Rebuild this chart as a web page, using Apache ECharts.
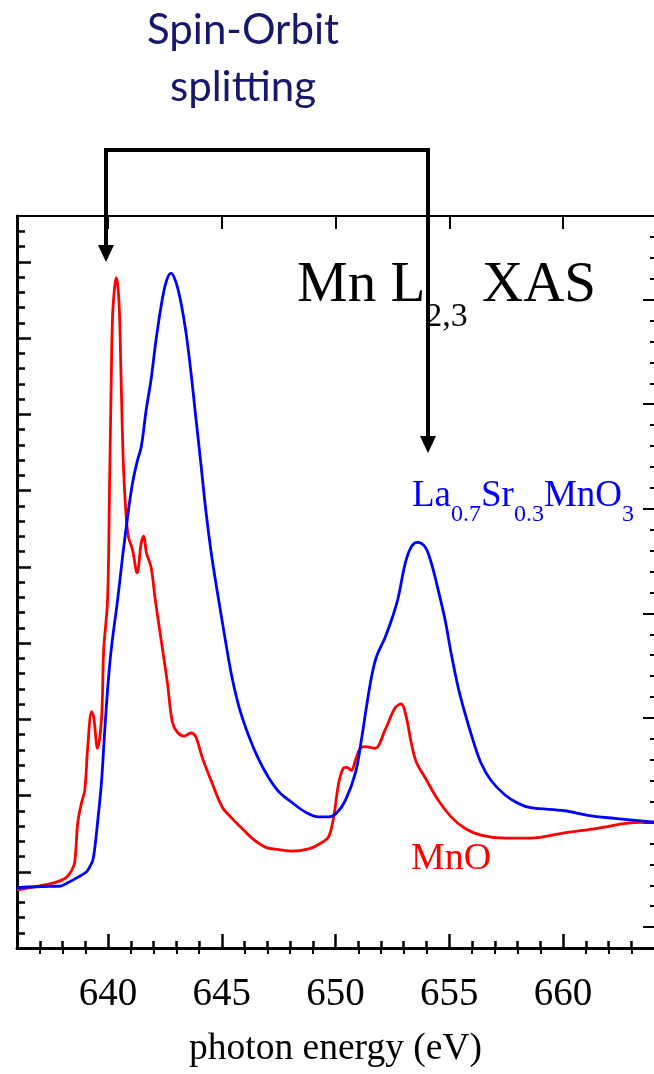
<!DOCTYPE html>
<html>
<head>
<meta charset="utf-8">
<script src="https://cdn.jsdelivr.net/npm/echarts@6/dist/echarts.min.js"></script>
<style>
  html, body { margin: 0; padding: 0; background: #ffffff; }
  #chart { width: 654px; height: 1074px; }
</style>
</head>
<body>
<div id="chart"></div>
<script>
// Mn L2,3 absorption spectra (arbitrary intensity units)
const mnoEnergy = [
  636.00, 637.44, 637.88, 638.19, 638.41, 638.54, 638.67, 638.84, 638.98, 639.11,
  639.28, 639.37, 639.54, 639.72, 639.81, 639.98, 640.07, 640.14, 640.20, 640.29,
  640.36, 640.44, 640.51, 640.58, 640.68, 640.80, 640.90, 641.08, 641.28, 641.46,
  641.57, 641.69, 641.89, 642.08, 642.40, 642.61, 642.83, 643.05, 643.35, 643.65,
  643.86, 644.14, 644.58, 645.02, 645.45, 645.89, 646.33, 646.94, 647.51, 648.08,
  648.82, 649.39, 649.70, 649.92, 650.14, 650.35, 650.49, 650.70, 650.88, 651.09,
  651.30, 651.74, 652.18, 652.62, 652.89, 653.11, 653.33, 653.55, 653.93, 654.51,
  655.08, 655.68, 656.39, 657.43, 658.58, 660.06, 661.51, 662.96, 664.00
];
const mnoIntensity = [
  0.76, 0.84, 0.88, 0.93, 1.02, 1.13, 1.64, 1.91, 2.07, 2.64,
  3.10, 3.03, 2.62, 3.03, 3.91, 4.56, 6.10, 7.41, 8.28, 8.66,
  8.79, 8.66, 8.28, 7.41, 6.31, 5.65, 5.39, 5.22, 4.92, 5.31,
  5.40, 5.18, 5.00, 4.56, 3.91, 3.48, 2.96, 2.83, 2.78, 2.82,
  2.77, 2.50, 2.16, 1.85, 1.70, 1.57, 1.44, 1.32, 1.29, 1.27,
  1.30, 1.38, 1.46, 1.72, 2.16, 2.36, 2.37, 2.33, 2.47, 2.62,
  2.64, 2.62, 2.86, 3.15, 3.20, 3.03, 2.69, 2.44, 2.24, 1.94,
  1.72, 1.57, 1.48, 1.44, 1.44, 1.51, 1.57, 1.64, 1.65
];
const lsmoEnergy = [
  636.00, 637.44, 637.88, 638.19, 638.63, 639.06, 639.19, 639.33, 639.41, 639.54,
  639.71, 639.85, 639.98, 640.14, 640.42, 640.64, 640.86, 641.08, 641.30, 641.46,
  641.68, 641.89, 642.11, 642.33, 642.55, 642.77, 642.99, 643.21, 643.43, 643.65,
  643.86, 644.08, 644.30, 644.52, 644.74, 645.23, 645.45, 645.76, 646.20, 646.63,
  647.07, 647.51, 648.08, 648.69, 649.26, 649.70, 650.05, 650.44, 650.88, 651.14,
  651.36, 651.58, 651.80, 652.19, 652.54, 652.76, 653.07, 653.33, 653.59, 653.94,
  654.21, 654.51, 654.82, 655.08, 655.39, 655.69, 656.04, 656.39, 656.83, 657.44,
  658.01, 658.58, 660.07, 661.08, 662.26, 664.00
];
const lsmoIntensity = [
  0.79, 0.81, 0.81, 0.85, 0.92, 1.00, 1.06, 1.15, 1.29, 1.64,
  2.16, 2.82, 3.38, 3.91, 4.56, 5.13, 5.65, 6.10, 6.40, 6.57,
  7.06, 7.45, 7.97, 8.41, 8.73, 8.85, 8.73, 8.46, 8.07, 7.54,
  6.96, 6.36, 5.74, 5.22, 4.79, 3.91, 3.55, 3.16, 2.77, 2.47,
  2.23, 2.05, 1.91, 1.78, 1.72, 1.72, 1.77, 1.94, 2.30, 2.73,
  3.16, 3.55, 3.82, 4.08, 4.37, 4.60, 5.05, 5.26, 5.32, 5.26,
  5.05, 4.70, 4.30, 3.87, 3.42, 3.08, 2.73, 2.43, 2.20, 2.01,
  1.90, 1.84, 1.80, 1.74, 1.70, 1.65
];

// Axis ticks
const energyMajorTicks = [640, 645, 650, 655, 660];
const energyTickLabels = ['640', '645', '650', '655', '660'];
const energyMinorTicks = [637, 638, 639, 641, 642, 643, 644, 646, 647, 648, 649,
                          651, 652, 653, 654, 656, 657, 658, 659, 661, 662, 663];
const leftMajorTicks = [1, 2, 3, 4, 5, 6, 7, 8, 9];
const rightMajorTicks = [0.2, 1.2, 2.2, 3.2, 4.2, 5.2, 6.2];

const ENERGY_MIN = 636, ENERGY_MAX = 664;
const LEFT_MAX = 9.6, RIGHT_MAX = 7;

// minor tick positions every 0.2 units, leaving out the major positions
function fifthSteps(max, isMajor) {
  const out = [];
  for (let i = 1; i * 0.2 < max - 1e-6; i++) {
    const v = Math.round(i * 2) / 10;
    if (!isMajor(v)) out.push(v);
  }
  return out;
}
const leftMinorTicks = fifthSteps(LEFT_MAX, v => Math.abs(v - Math.round(v)) < 1e-6);
const rightMinorTicks = fifthSteps(RIGHT_MAX, v => Math.abs((v - 0.2) - Math.round(v - 0.2)) < 1e-6);

const pair = (xs, ys) => xs.map((x, i) => [x, ys[i]]);

const SERIF = '"Liberation Serif", "DejaVu Serif", serif';
const NAVY = '#17176b';

function tickAxis(base, ticks, len, width, extra) {
  return Object.assign({
    type: 'value',
    axisLine: { show: false },
    splitLine: { show: false },
    axisLabel: { show: false },
    axisTick: { show: true, inside: true, length: len, customValues: ticks,
                lineStyle: { color: '#000', width: width } }
  }, base, extra || {});
}

const xBase = { min: ENERGY_MIN, max: ENERGY_MAX, gridIndex: 0 };
const leftBase = { min: 0, max: LEFT_MAX, gridIndex: 0, position: 'left' };
const rightBase = { min: 0, max: RIGHT_MAX, gridIndex: 0, position: 'right' };

const chart = echarts.init(document.getElementById('chart'), null, { renderer: 'canvas' });

chart.setOption({
  animation: false,
  backgroundColor: '#ffffff',
  grid: { left: 17, top: 216, width: 640, height: 732, containLabel: false },
  xAxis: [
    tickAxis(Object.assign({ position: 'bottom' }, xBase), energyMajorTicks, 14, 2.5, {
      axisLine: { show: true, onZero: false, lineStyle: { color: '#000', width: 3 } },
      axisLabel: {
        show: true, customValues: energyMajorTicks, margin: 27,
        formatter: v => energyTickLabels[energyMajorTicks.indexOf(v)],
        fontFamily: SERIF, fontSize: 39, color: '#000'
      },
      name: 'photon energy (eV)', nameLocation: 'middle', nameGap: 82,
      nameTextStyle: { fontFamily: SERIF, fontSize: 37.5, color: '#000' }
    }),
    tickAxis(Object.assign({ position: 'bottom' }, xBase), energyMinorTicks, 7, 2.5),
    tickAxis(Object.assign({ position: 'top' }, xBase), energyMajorTicks, 13, 2, {
      axisLine: { show: true, onZero: false, lineStyle: { color: '#000', width: 2 } }
    }),
    tickAxis(Object.assign({ position: 'top' }, xBase), energyMinorTicks, 6, 2)
  ],
  yAxis: [
    tickAxis(leftBase, leftMajorTicks, 14, 2.5, {
      axisLine: { show: true, onZero: false, lineStyle: { color: '#000', width: 3 } }
    }),
    tickAxis(leftBase, leftMinorTicks, 8, 2.5),
    tickAxis(rightBase, rightMajorTicks, 11, 2),
    tickAxis(rightBase, rightMinorTicks, 4, 2)
  ],
  series: [
    {
      name: 'MnO', type: 'line', xAxisIndex: 0, yAxisIndex: 0,
      data: pair(mnoEnergy, mnoIntensity),
      showSymbol: false, smooth: 0.35,
      lineStyle: { color: '#ff0000', width: 2.8, join: 'round' }, z: 3
    },
    {
      name: 'La0.7Sr0.3MnO3', type: 'line', xAxisIndex: 0, yAxisIndex: 0,
      data: pair(lsmoEnergy, lsmoIntensity),
      showSymbol: false, smooth: 0.35,
      lineStyle: { color: '#0000ff', width: 2.8, join: 'round' }, z: 4
    }
  ],
  graphic: [
    { type: 'text', style: { text: 'Spin-Orbit', x: 243, y: 30, textAlign: 'center',
      textVerticalAlign: 'middle', font: '42px Lato', fill: NAVY } },
    { type: 'text', style: { text: 'splitting', x: 243, y: 87, textAlign: 'center',
      textVerticalAlign: 'middle', font: '42px Lato', fill: NAVY } },
    { type: 'text', z: 10, style: {
      text: '{m|Mn L}{s|2,3}{m| XAS}', x: 297, y: 334,
      textAlign: 'left', textVerticalAlign: 'bottom',
      rich: {
        m: { fontFamily: SERIF, fontSize: 57, fill: '#000', verticalAlign: 'bottom', padding: [0, 0, 19, 0] },
        s: { fontFamily: SERIF, fontSize: 34, fill: '#000', verticalAlign: 'bottom' }
      } } },
    { type: 'text', z: 10, style: {
      text: '{m|La}{s|0.7}{m|Sr}{s|0.3}{m|MnO}{s|3}', x: 412, y: 527,
      textAlign: 'left', textVerticalAlign: 'bottom',
      rich: {
        m: { fontFamily: SERIF, fontSize: 37, fill: '#0000ff', verticalAlign: 'bottom', padding: [0, 0, 12, 0] },
        s: { fontFamily: SERIF, fontSize: 24, fill: '#0000ff', verticalAlign: 'bottom' }
      } } },
    { type: 'text', z: 10, style: { text: 'MnO', x: 411, y: 859, textAlign: 'left',
      textVerticalAlign: 'middle', font: '38px ' + SERIF, fill: '#ff0000' } },
    { type: 'polyline', z: 20, shape: { points: [[106, 247], [106, 150], [428, 150], [428, 438]] },
      style: { stroke: '#000', lineWidth: 4, fill: null, lineJoin: 'miter' } },
    { type: 'polygon', z: 20, shape: { points: [[98, 245], [114, 245], [106, 262]] },
      style: { fill: '#000' } },
    { type: 'polygon', z: 20, shape: { points: [[420, 436], [436, 436], [428, 453]] },
      style: { fill: '#000' } }
  ]
});
</script>
</body>
</html>
